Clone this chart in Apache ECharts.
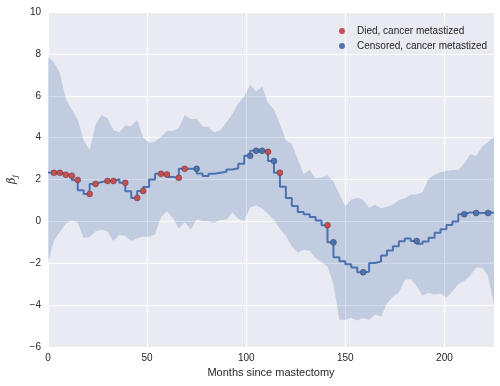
<!DOCTYPE html>
<html>
<head>
<meta charset="utf-8">
<script src="https://cdn.jsdelivr.net/npm/echarts@6/dist/echarts.min.js"></script>
<style>html,body{margin:0;padding:0;background:#fff;}#c{width:500px;height:386px;}</style>
</head>
<body>
<div id="c"></div>
<script>
const months = [0,3,6,9,12,15,18,21,24,27,30,33,36,39,42,45,48,51,54,57,60,63,66,69,72,75,78,81,84,87,90,93,96,99,102,105,108,111,114,117,120,123,126,129,132,135,138,141,144,147,150,153,156,159,162,165,168,171,174,177,180,183,186,189,192,195,198,201,204,207,210,213,216,219,222,225];
const beta = [2.33,2.32,2.32,2.23,2.18,1.98,1.49,1.31,1.79,1.88,1.93,1.93,2.01,1.84,1.44,1.12,1.45,1.64,2.0,2.27,2.24,2.12,2.08,2.51,2.51,2.51,2.29,2.17,2.27,2.32,2.37,2.48,2.54,2.75,3.13,3.37,3.37,3.32,2.88,2.32,1.65,1.12,0.73,0.45,0.34,0.21,0.04,-0.18,-1.0,-1.71,-1.91,-2.05,-2.2,-2.43,-2.41,-1.99,-1.92,-1.63,-1.39,-1.19,-0.95,-0.82,-0.94,-1.07,-0.96,-0.78,-0.54,-0.38,-0.17,0.0,0.34,0.43,0.40,0.40,0.40,0.42];
const upper = [7.85,7.6,7.08,5.84,5.34,4.87,3.88,3.41,4.62,5.08,4.93,4.36,4.26,4.58,4.56,4.84,4.01,3.76,3.82,4.04,4.33,4.32,4.46,5.08,4.89,4.89,4.54,4.49,4.24,4.35,4.74,5.13,5.63,5.96,6.52,6.2,6.44,5.65,5.34,4.65,3.88,3.69,2.97,2.25,2.46,2.05,2.1,2.2,1.9,1.3,0.72,1.05,1.13,1.02,0.65,0.8,0.63,0.7,0.81,1.02,1.11,1.27,1.28,1.4,2.05,2.23,2.35,2.41,2.45,2.45,2.77,3.21,3.12,3.56,3.8,4.04];
const lower = [-1.95,-0.91,-0.51,-0.11,0.05,-0.06,-0.8,-0.75,-0.47,-0.4,-0.48,-0.94,-0.64,-0.7,-0.94,-0.8,-0.72,-0.75,-0.62,0.21,0.48,0.16,-0.35,-0.03,-0.4,0.1,0.01,0.0,-0.08,0.08,0.08,0.42,0.13,0.01,0.66,0.77,0.61,0.37,0.05,-0.35,-0.7,-1.2,-1.5,-1.35,-1.4,-1.75,-1.95,-2.15,-3.0,-4.7,-4.7,-4.6,-4.73,-4.62,-4.7,-4.45,-4.55,-3.92,-3.6,-3.4,-2.8,-2.75,-3.1,-3.55,-3.4,-3.5,-3.45,-3.65,-3.35,-3.0,-2.85,-2.6,-2.2,-2.22,-2.6,-4.0];
const diedMonths = [3,6,9,12,15,21,24,30,33,39,45,48,57,60,66,69,111,117,141];
const diedBeta = [2.32,2.32,2.23,2.18,1.98,1.31,1.79,1.93,1.93,1.84,1.12,1.45,2.27,2.24,2.08,2.51,3.32,2.32,-0.18];
const censMonths = [75,102,105,108,114,144,159,186,210,216,222];
const censBeta = [2.51,3.13,3.37,3.37,2.88,-1.0,-2.43,-0.94,0.34,0.40,0.40];
const xTicks = [0,50,100,150,200];
const yTicks = [-6,-4,-2,0,2,4,6,8,10];

const BLUE = '#4C72B0', RED = '#C44E52', TXT = '#262626';
const FONT = '"Liberation Sans", Arial, sans-serif';
const zip = (a, b) => a.map((v, i) => [v, b[i]]);

const chart = echarts.init(document.getElementById('c'), null, {renderer: 'canvas'});
chart.setOption({
  animation: false,
  backgroundColor: '#ffffff',
  textStyle: {fontFamily: FONT},
  grid: {left: 48, right: 6, top: 12, bottom: 39, show: true, backgroundColor: '#EAEAF2', borderWidth: 0,
         containLabel: false, outerBoundsMode: 'none'},
  legend: {
    orient: 'vertical', left: 334, top: 20, itemWidth: 6, itemHeight: 6, itemGap: 3,
    icon: 'circle',
    itemStyle: {borderWidth: 0},
    textStyle: {fontFamily: FONT, fontSize: 10, color: TXT, padding: [0, 0, 0, 7], lineHeight: 12},
    data: ['Died, cancer metastized', 'Censored, cancer metastized']
  },
  xAxis: {
    type: 'value', min: xTicks[0], max: 225, interval: 50,
    name: 'Months since mastectomy', nameLocation: 'middle', nameGap: 20,
    nameTextStyle: {fontFamily: FONT, fontSize: 11, color: TXT},
    axisLine: {show: false}, axisTick: {show: false},
    axisLabel: {fontFamily: FONT, fontSize: 10, color: TXT, margin: 6, showMaxLabel: false},
    splitLine: {show: true, lineStyle: {color: '#ffffff', width: 1}}
  },
  yAxis: {
    type: 'value', min: yTicks[0], max: yTicks[yTicks.length - 1], interval: 2,
    name: '{b|β}{s|j}', nameLocation: 'middle', nameGap: 28, nameRotate: 90,
    nameTextStyle: {color: TXT, rich: {
      b: {fontFamily: '"DejaVu Serif", serif', fontStyle: 'italic', fontSize: 11, color: TXT},
      s: {fontFamily: '"DejaVu Serif", serif', fontStyle: 'italic', fontSize: 8, color: TXT, padding: [6, 0, 0, 0]}
    }},
    axisLine: {show: false}, axisTick: {show: false},
    axisLabel: {fontFamily: FONT, fontSize: 10, color: TXT, margin: 7,
      formatter: v => String(v).replace('-', '\u2212')},
    splitLine: {show: true, lineStyle: {color: '#ffffff', width: 1}}
  },
  series: [
    {
      type: 'custom', name: 'band', silent: true, clip: true, z: 1,
      data: [0],
      renderItem: (params, api) => {
        const pts = [];
        for (let i = 0; i < months.length; i++) pts.push(api.coord([months[i], upper[i]]));
        for (let i = months.length - 1; i >= 0; i--) pts.push(api.coord([months[i], lower[i]]));
        return {type: 'polygon', shape: {points: pts}, style: {fill: 'rgba(76,114,176,0.25)'}};
      }
    },
    {
      type: 'line', name: 'beta', step: 'start', z: 2,
      data: zip(months, beta), showSymbol: false,
      lineStyle: {color: BLUE, width: 2}
    },
    {
      type: 'scatter', name: 'Died, cancer metastized', z: 3,
      data: zip(diedMonths, diedBeta), symbolSize: 6,
      itemStyle: {color: RED, borderColor: 'rgba(40,40,40,0.55)', borderWidth: 0.6, opacity: 1}
    },
    {
      type: 'scatter', name: 'Censored, cancer metastized', z: 3,
      data: zip(censMonths, censBeta), symbolSize: 6,
      itemStyle: {color: BLUE, borderColor: 'rgba(40,40,40,0.55)', borderWidth: 0.6, opacity: 1}
    }
  ]
});
</script>
</body>
</html>
